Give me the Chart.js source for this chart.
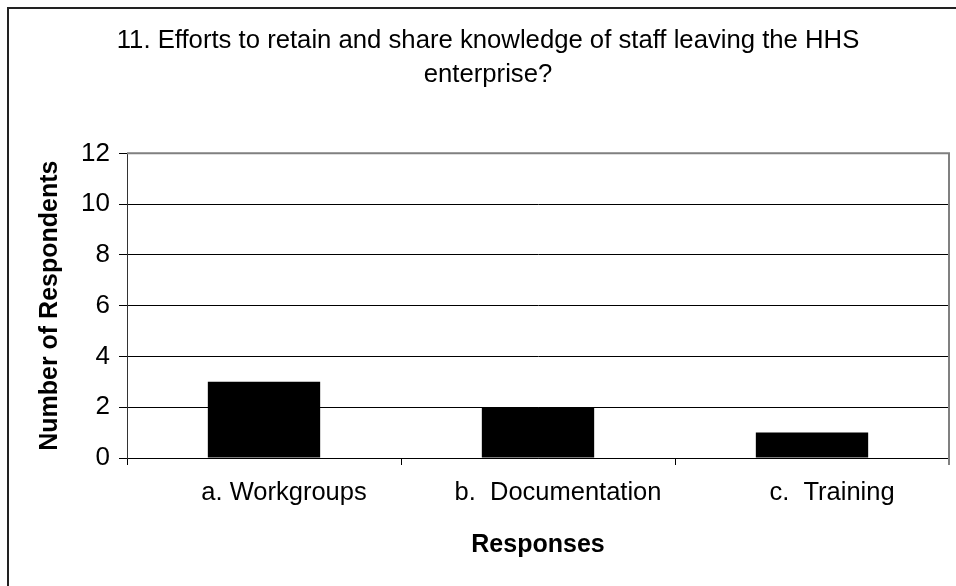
<!DOCTYPE html>
<html>
<head>
<meta charset="utf-8">
<script src="https://cdn.jsdelivr.net/npm/chart.js@4/dist/chart.umd.min.js"></script>
<style>
html,body{margin:0;padding:0;background:#fff;}
#wrap{width:956px;height:586px;position:relative;}
</style>
</head>
<body>
<div id="wrap"><canvas id="c" width="956" height="586"></canvas></div>
<script>
const categories = ["a. Workgroups", "b.  Documentation", "c.  Training"];
const respondents = [3, 2, 1];
const yTicks = [0, 2, 4, 6, 8, 10, 12];
const titleLines = ["11. Efforts to retain and share knowledge of staff leaving the HHS", "enterprise?"];
const xTitle = "Responses";
const yTitle = "Number of Respondents";

const FONT = "'Liberation Sans', Arial, sans-serif";

const frame = {
  id: 'frame',
  beforeDraw(chart) {
    const ctx = chart.ctx;
    ctx.save();
    ctx.fillStyle = '#fff';
    ctx.fillRect(0, 0, chart.width, chart.height);
    ctx.strokeStyle = '#222';
    ctx.lineWidth = 2;
    ctx.beginPath();
    ctx.moveTo(8, chart.height);
    ctx.lineTo(8, 8);
    ctx.lineTo(chart.width, 8);
    ctx.stroke();
    ctx.restore();
  },
  afterDatasetsDraw(chart) {
    const a = chart.chartArea, ctx = chart.ctx;
    ctx.save();
    ctx.strokeStyle = '#808080';
    ctx.lineWidth = 2;
    ctx.beginPath();
    ctx.moveTo(a.left, a.top);
    ctx.lineTo(a.right, a.top);
    ctx.lineTo(a.right, a.bottom + 7);
    ctx.stroke();
    ctx.restore();
  }
};

new Chart(document.getElementById('c'), {
  type: 'bar',
  data: {
    labels: categories,
    datasets: [{
      data: respondents,
      backgroundColor: '#000',
      borderColor: '#000',
      borderWidth: 0,
      barPercentage: 0.41,
      categoryPercentage: 1.0
    }]
  },
  options: {
    responsive: false,
    animation: false,
    devicePixelRatio: 1,
    layout: { padding: { left: 27, right: 7, top: 0, bottom: 0 } },
    plugins: {
      legend: { display: false },
      tooltip: { enabled: false },
      title: {
        display: true,
        text: titleLines,
        color: '#000',
        font: { family: FONT, size: 25.7, weight: 'normal', lineHeight: 1.33 },
        padding: { top: 24, bottom: 61 }
      }
    },
    scales: {
      x: {
        grid: { display: true, drawOnChartArea: false, drawTicks: true, tickLength: 7, color: '#000', offset: true },
        border: { display: true, color: '#000', width: 1 },
        ticks: { color: '#000', font: { family: FONT, size: 25.5 }, padding: 13, maxRotation: 0, labelOffset: 20 },
        title: { display: true, text: xTitle, color: '#000', font: { family: FONT, size: 25, weight: 'bold' }, padding: { top: 10, bottom: 26 } },
        afterFit(s) { s.height = 128; }
      },
      y: {
        min: 0, max: 12,
        afterBuildTicks(s) { s.ticks = yTicks.map(v => ({ value: v })); },
        grid: { color: '#000', lineWidth: 1, tickLength: 8, drawTicks: true },
        border: { display: true, color: '#333', width: 1 },
        ticks: { color: '#000', font: { family: FONT, size: 26 }, padding: 9 },
        title: { display: true, text: yTitle, color: '#000', font: { family: FONT, size: 25, weight: 'bold' }, padding: { top: 8, bottom: 0 } },
        afterFit(s) { s.width = 100; }
      }
    }
  },
  plugins: [frame]
});
</script>
</body>
</html>
